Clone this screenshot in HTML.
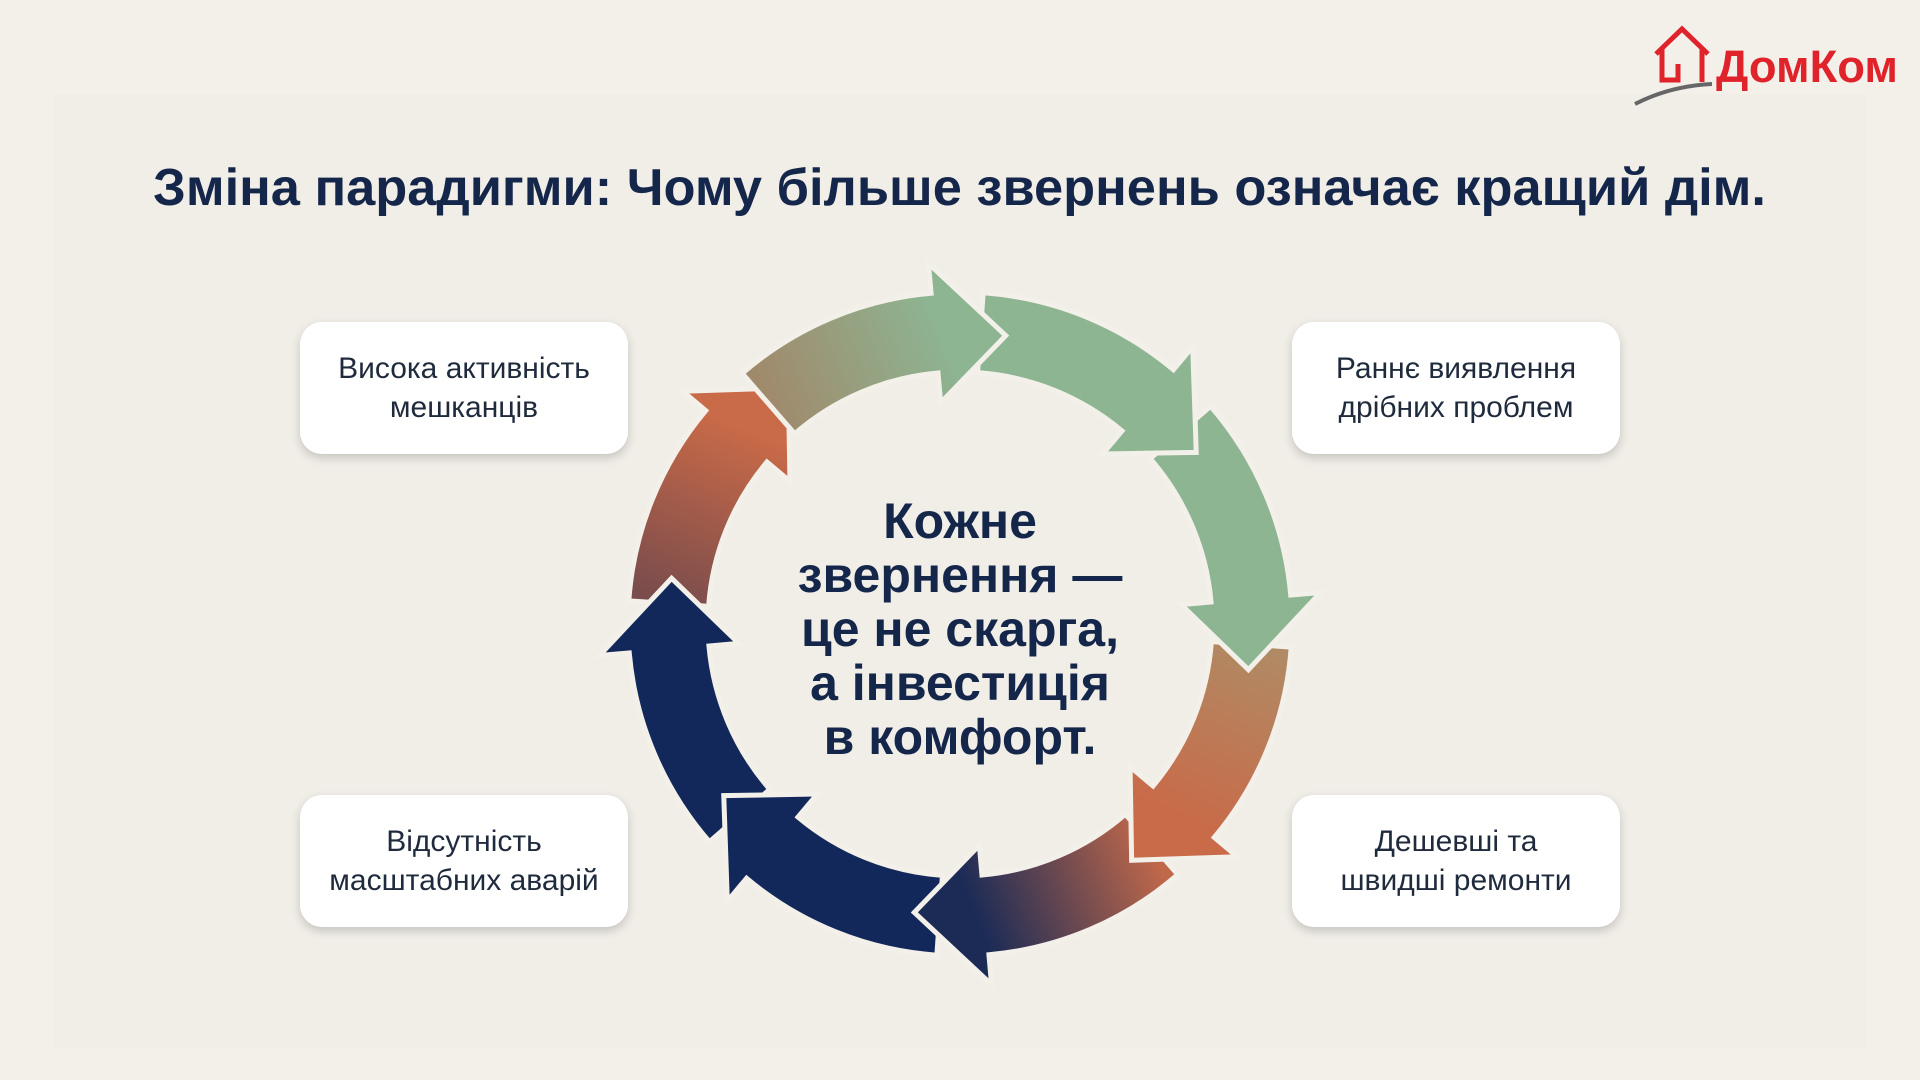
<!DOCTYPE html>
<html><head><meta charset="utf-8"><style>
html,body{margin:0;padding:0;width:1920px;height:1080px;overflow:hidden;background:#f3f0ea;font-family:"Liberation Sans",sans-serif}
.panel{position:absolute;left:53px;top:94px;width:1814px;height:954px;background:#f1eee8}
.box{position:absolute;width:328px;height:132px;background:#fff;border-radius:22px;box-shadow:0 4px 10px rgba(0,0,0,0.18);display:flex;align-items:center;justify-content:center;text-align:center;font-size:30px;line-height:39px;color:#1f2a3c}
</style></head><body>
<div class="panel"></div>
<svg width="1920" height="1080" style="position:absolute;left:0;top:0" id="s">
<defs id="d"></defs>
<text x="153" y="205" font-family="Liberation Sans" font-weight="bold" font-size="52" fill="#15264b" textLength="1613" lengthAdjust="spacingAndGlyphs">Зміна парадигми: Чому більше звернень означає кращий дім.</text>
<g id="arrows"></g>
<g font-family="Liberation Sans" font-weight="bold" font-size="50" fill="#15264b" text-anchor="middle">
<text x="960" y="538">Кожне</text>
<text x="960" y="592">звернення —</text>
<text x="960" y="646">це не скарга,</text>
<text x="960" y="700">а інвестиція</text>
<text x="960" y="754">в комфорт.</text>
</g>
<g fill="none" stroke="#e0222b" stroke-width="5">
<polyline points="1656,54 1682,29 1708,54"/>
<polyline points="1662,48 1662,80 1678,80 1678,64"/>
<polyline points="1702,48 1702,82"/>
</g>
<text x="1716" y="82" font-family="Liberation Sans" font-weight="bold" font-size="45" fill="#e0222b" textLength="182" lengthAdjust="spacingAndGlyphs">ДомКом</text>
<path d="M1635,104 Q1670,86 1712,84" stroke="#666" stroke-width="4" fill="none"/>
</svg>
<div class="box" style="left:300px;top:322px">Висока активність<br>мешканців</div>
<div class="box" style="left:1292px;top:322px">Раннє виявлення<br>дрібних проблем</div>
<div class="box" style="left:300px;top:795px">Відсутність<br>масштабних аварій</div>
<div class="box" style="left:1292px;top:795px">Дешевші та<br>швидші ремонти</div>
<script>
var cx=960,cy=624,R=292,hw=40,hh=70,headA=14;
function P(a,r){var t=a*Math.PI/180;return [cx+r*Math.sin(t),cy-r*Math.cos(t)];}
var arrows=[
[-45,0,'#a08a6c','#8db592'],
[0,45,'#8db592','#8db592'],
[45,90,'#8db592','#8db592'],
[90,135,'#b08a64','#c96a48'],
[135,180,'#c0684a','#1b2b56'],
[180,225,'#13285a','#13285a'],
[225,270,'#13285a','#13285a'],
[270,315,'#7a4c4c','#c96a48']];
var g=document.getElementById('arrows'),d=document.getElementById('d'),ns='http://www.w3.org/2000/svg';
var els=[];
arrows.forEach(function(a,i){
 var s=a[0]+4,e=a[1]+9,b=e-headA;
 var o1=P(s,R+hw),o2=P(b,R+hw),i1=P(s,R-hw),i2=P(b,R-hw),h1=P(b,R+hh),h2=P(b,R-hh),tip=P(e,R);
 var path='M'+o1+' A'+(R+hw)+','+(R+hw)+' 0 0 1 '+o2+' L'+h1+' L'+tip+' L'+h2+' L'+i2+' A'+(R-hw)+','+(R-hw)+' 0 0 0 '+i1+' Z';
 var lg=document.createElementNS(ns,'linearGradient');lg.setAttribute('id','g'+i);lg.setAttribute('gradientUnits','userSpaceOnUse');
 var p0=P(s,R),p1=P(e-12,R);
 lg.setAttribute('x1',p0[0]);lg.setAttribute('y1',p0[1]);lg.setAttribute('x2',p1[0]);lg.setAttribute('y2',p1[1]);
 [[0,a[2]],[1,a[3]]].forEach(function(st){var x=document.createElementNS(ns,'stop');x.setAttribute('offset',st[0]);x.setAttribute('stop-color',st[1]);lg.appendChild(x);});
 d.appendChild(lg);
 var pe=document.createElementNS(ns,'path');pe.setAttribute('d',path);pe.setAttribute('fill','url(#g'+i+')');pe.setAttribute('stroke','#f3f0ea');pe.setAttribute('stroke-width','5');pe.setAttribute('stroke-linejoin','miter');
 els.push(pe);
});
for(var k=els.length-1;k>=0;k--)g.appendChild(els[k]);
</script>
</body></html>
